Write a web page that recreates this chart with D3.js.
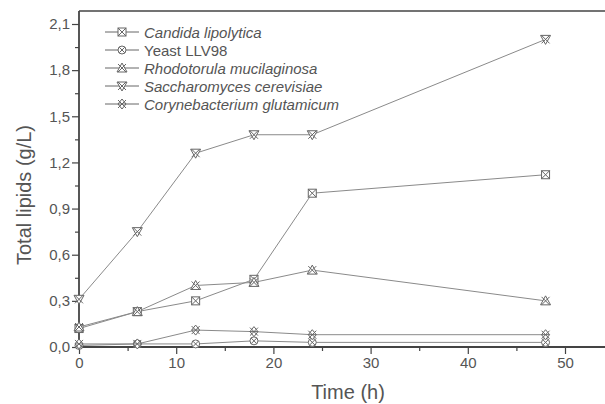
<!DOCTYPE html>
<html>
<head>
<meta charset="utf-8">
<script src="https://cdn.jsdelivr.net/npm/d3@7"></script>
<style>
  body { margin: 0; background: #fff; }
  svg text { font-family: "Liberation Sans", Arial, Helvetica, sans-serif !important; }
</style>
</head>
<body>
<svg id="chart" width="605" height="404"></svg>
<script>
let svg = d3.select("#chart");

// data
const times = [0, 6, 12, 18, 24, 48];
const seriesNames = ["Candida lipolytica", "Yeast LLV98", "Rhodotorula mucilaginosa", "Saccharomyces cerevisiae", "Corynebacterium glutamicum"];
const italicNames = [true, false, true, true, true];
const candida = [0.12, 0.23, 0.30, 0.44, 1.00, 1.12];
const yeast = [0.01, 0.02, 0.02, 0.04, 0.03, 0.03];
const rhodotorula = [0.13, 0.23, 0.40, 0.42, 0.50, 0.30];
const saccharomyces = [0.31, 0.75, 1.26, 1.38, 1.38, 2.00];
const corynebacterium = [0.02, 0.02, 0.11, 0.10, 0.08, 0.08];
const seriesValues = [candida, yeast, rhodotorula, saccharomyces, corynebacterium];
const symbolKinds = ["square", "circle", "up", "down", "diamond"];
const xTicks = [0, 10, 20, 30, 40, 50];
const yTicks = [0, 0.3, 0.6, 0.9, 1.2, 1.5, 1.8, 2.1];

let x = d3.scaleLinear().domain([0, 50]).range([79, 565]);
let y = d3.scaleLinear().domain([0, 2.1]).range([347, 24]);
const axisColor = "#444";
const fontFam = "'Liberation Sans', Arial, sans-serif";

// top frame line
svg.append("line")
    .attr("x1", 79).attr("x2", 605)
    .attr("y1", 11).attr("y2", 11)
    .attr("stroke", axisColor).attr("stroke-width", 1.5);

// minor ticks
svg.append("g")
    .attr("transform", "translate(0,347)")
    .call(d3.axisBottom(x).tickValues(d3.range(5, 55, 10)).tickSize(4).tickFormat(""))
    .call(g => g.select(".domain").remove())
    .selectAll("line").attr("stroke", axisColor).attr("stroke-width", 1.2);

svg.append("g")
    .attr("transform", "translate(79,0)")
    .call(d3.axisLeft(y).tickValues(d3.range(0.15, 2.1, 0.3)).tickSize(4).tickFormat(""))
    .call(g => g.select(".domain").remove())
    .selectAll("line").attr("stroke", axisColor).attr("stroke-width", 1.2);

// x axis
let xAxis = svg.append("g")
    .attr("transform", "translate(0,347)")
    .call(d3.axisBottom(x).tickValues(xTicks).tickSize(7).tickSizeOuter(0).tickPadding(3));
xAxis.attr("font-family", fontFam);
xAxis.select(".domain").remove();
xAxis.selectAll("line").attr("stroke", axisColor).attr("stroke-width", 1.2);
xAxis.selectAll("text").attr("fill", "#555").style("font-size", "15px");
svg.append("line")
    .attr("x1", 79).attr("x2", 605)
    .attr("y1", 347).attr("y2", 347)
    .attr("stroke", axisColor).attr("stroke-width", 1.8);

// y axis
let yAxis = svg.append("g")
    .attr("transform", "translate(79,0)")
    .call(d3.axisLeft(y).tickValues(yTicks).tickSize(7).tickSizeOuter(0).tickPadding(2)
        .tickFormat(d => d3.format(".1f")(d).replace(".", ",")));
yAxis.attr("font-family", fontFam);
yAxis.select(".domain").remove();
yAxis.selectAll("line").attr("stroke", axisColor).attr("stroke-width", 1.2);
yAxis.selectAll("text").attr("fill", "#555").style("font-size", "15px");
svg.append("line")
    .attr("x1", 79).attr("x2", 79)
    .attr("y1", 11).attr("y2", 347)
    .attr("stroke", axisColor).attr("stroke-width", 1.8);

// axis titles
svg.append("text")
    .attr("x", 348).attr("y", 399)
    .attr("text-anchor", "middle")
    .attr("fill", "#555")
    .style("font-size", "20px")
    .text("Time (h)");

svg.append("text")
    .attr("transform", "translate(31,195) rotate(-90)")
    .attr("text-anchor", "middle")
    .attr("fill", "#555")
    .style("font-size", "20px")
    .text("Total lipids (g/L)");

// marker drawing
function drawMarker(g, kind) {
    const s = 4;
    const st = "#666";
    if (kind === "square") {
        g.append("rect").attr("x", -s).attr("y", -s).attr("width", 2 * s).attr("height", 2 * s)
            .attr("fill", "#fff").attr("stroke", st);
        g.append("path").attr("d", `M${-s},${-s}L${s},${s}M${s},${-s}L${-s},${s}`).attr("stroke", st);
    } else if (kind === "circle") {
        g.append("circle").attr("r", s).attr("fill", "#fff").attr("stroke", st);
        g.append("path").attr("d", `M${-s * 0.7},${-s * 0.7}L${s * 0.7},${s * 0.7}M${s * 0.7},${-s * 0.7}L${-s * 0.7},${s * 0.7}`).attr("stroke", st);
    } else if (kind === "up") {
        g.append("path").attr("d", `M0,${-s - 1}L${s + 1},${s}L${-s - 1},${s}Z`).attr("fill", "#fff").attr("stroke", st);
        g.append("path").attr("d", `M${-s},${-s}L${s},${s}M${s},${-s}L${-s},${s}`).attr("stroke", st);
    } else if (kind === "down") {
        g.append("path").attr("d", `M0,${s + 1}L${s + 1},${-s}L${-s - 1},${-s}Z`).attr("fill", "#fff").attr("stroke", st);
        g.append("path").attr("d", `M${-s},${-s}L${s},${s}M${s},${-s}L${-s},${s}`).attr("stroke", st);
    } else {
        g.append("path").attr("d", `M0,${-s - 1}L${s},0L0,${s + 1}L${-s},0Z`).attr("fill", "#fff").attr("stroke", st);
        g.append("path").attr("d", `M${-s},${-s}L${s},${s}M${s},${-s}L${-s},${s}`).attr("stroke", st);
        g.append("path").attr("d", `M${-s},0L${s},0`).attr("stroke", st);
    }
}

let line = d3.line()
    .x((d, i) => x(times[i]))
    .y(d => y(d));

seriesValues.forEach((vals, si) => {
    svg.append("path")
        .datum(vals)
        .attr("d", line)
        .attr("fill", "none")
        .attr("stroke", "#8a8a8a")
        .attr("stroke-width", 1);
});

seriesValues.forEach((vals, si) => {
    vals.forEach((v, i) => {
        let g = svg.append("g")
            .attr("transform", `translate(${x(times[i])},${y(v)})`);
        drawMarker(g, symbolKinds[si]);
    });
});

// legend
let legend = svg.append("g");
seriesNames.forEach((name, i) => {
    let ly = 32 + i * 18;
    legend.append("line")
        .attr("x1", 105).attr("x2", 139)
        .attr("y1", ly).attr("y2", ly)
        .attr("stroke", "#666").attr("stroke-width", 1);
    let g = legend.append("g").attr("transform", `translate(122,${ly})`);
    drawMarker(g, symbolKinds[i]);
    legend.append("text")
        .attr("x", 144).attr("y", ly + 5.5)
        .attr("fill", "#555")
        .style("font-size", "15px")
        .style("font-style", italicNames[i] ? "italic" : "normal")
        .text(name);
});
</script>
</body>
</html>
